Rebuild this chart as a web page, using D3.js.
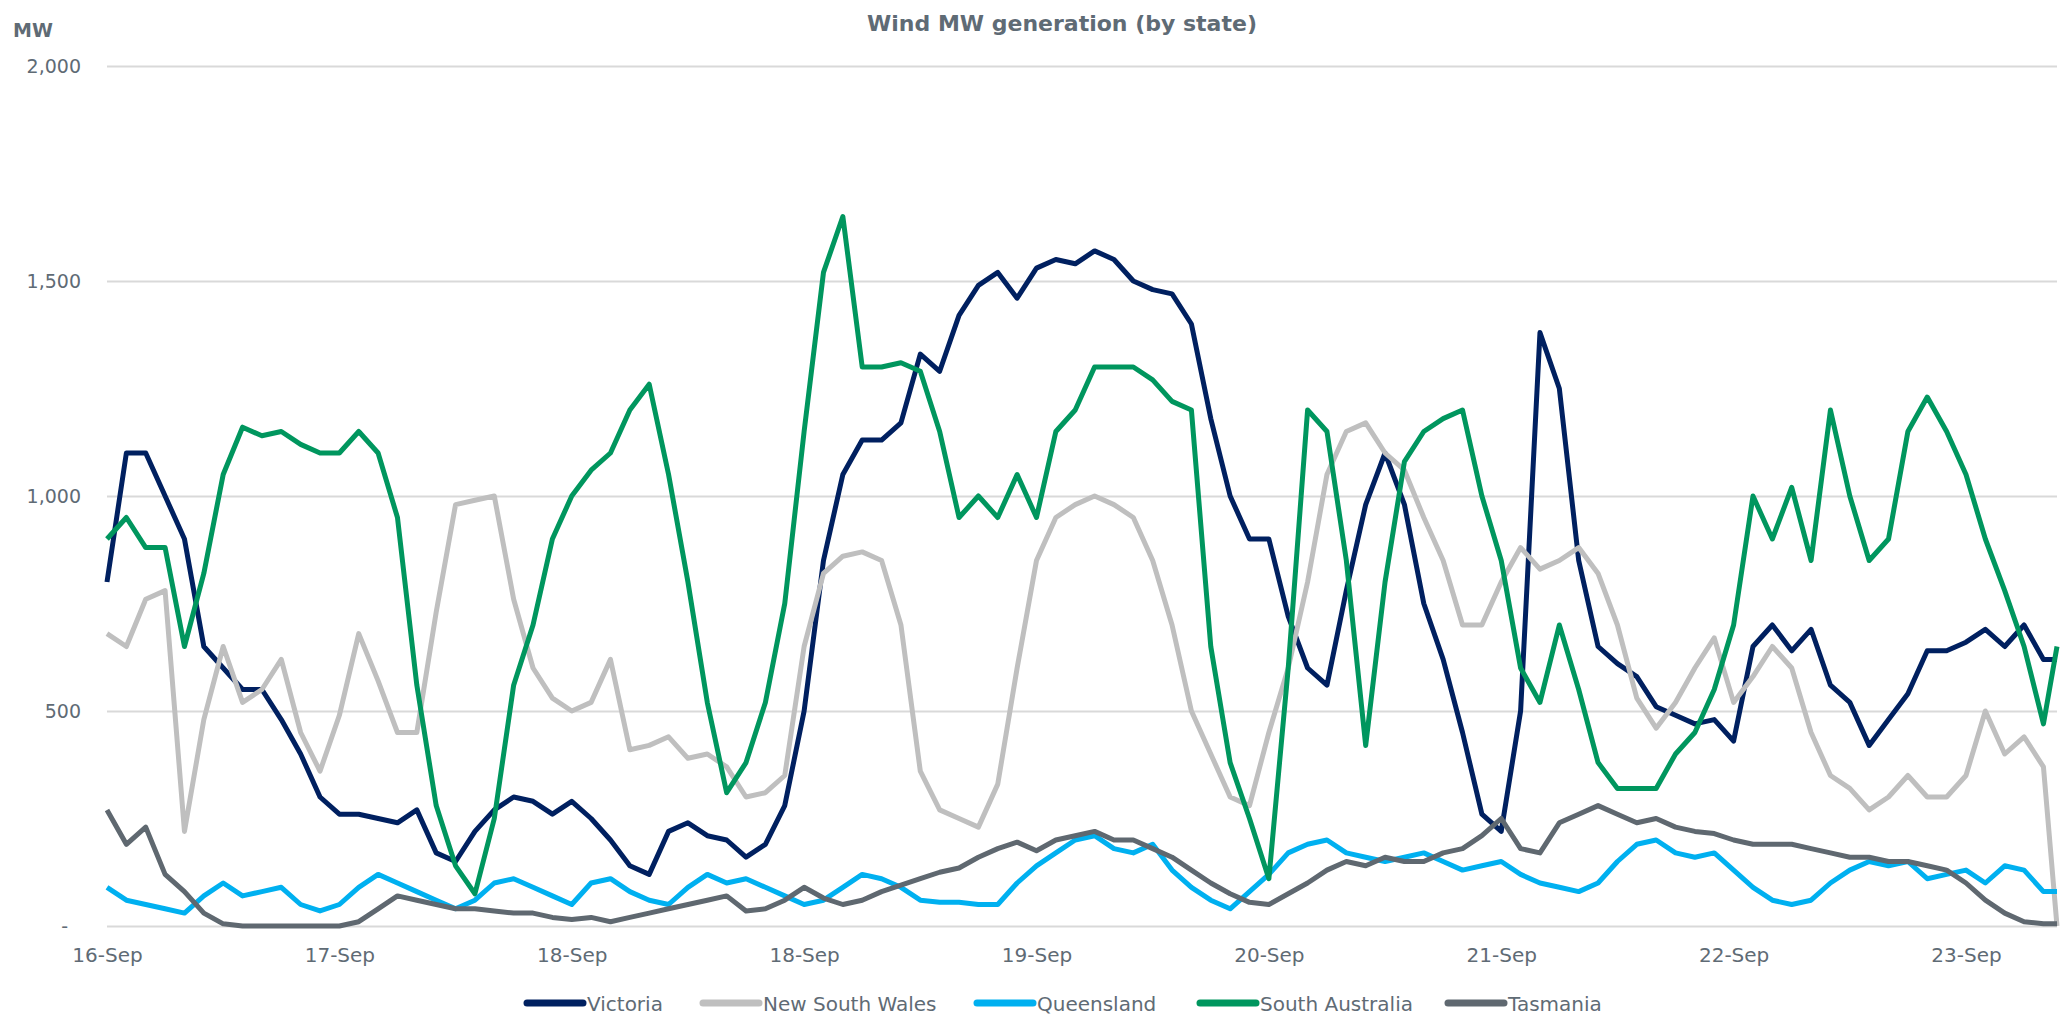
<!DOCTYPE html>
<html>
<head>
<meta charset="utf-8">
<script src="https://cdn.jsdelivr.net/npm/d3@7"></script>
<style>
  body { margin: 0; background: #fff; }
  svg text { font-family: "DejaVu Sans", sans-serif; fill: #5f6b75; }
</style>
</head>
<body>
<svg class="chart_svg" width="2064" height="1015"></svg>
<script>
/* values, one point every 2 hours from 16-Sep 00:00 */
let victoria = [800,1100,1100,1000,900,650,600,550,550,480,400,300,260,260,250,240,270,170,150,220,270,300,290,260,290,250,200,140,120,220,240,210,200,160,190,280,500,850,1050,1130,1130,1170,1330,1290,1420,1490,1520,1460,1530,1550,1540,1570,1550,1500,1480,1470,1400,1180,1000,900,900,720,600,560,780,980,1100,980,750,620,450,260,220,500,1380,1250,850,650,610,580,510,490,470,480,430,650,700,640,690,560,520,420,480,540,640,640,660,690,650,700,620,620];
let nsw = [680,650,760,780,220,480,650,520,550,620,450,360,490,680,570,450,450,730,980,990,1000,760,600,530,500,520,620,410,420,440,390,400,370,300,310,350,650,820,860,870,850,700,360,270,250,230,330,600,850,950,980,1000,980,950,850,700,500,400,300,280,450,600,800,1050,1150,1170,1100,1060,950,850,700,700,800,880,830,850,880,820,700,530,460,520,600,670,520,580,650,600,450,350,320,270,300,350,300,300,350,500,400,440,370,0];
let queensland = [90,60,50,40,30,70,100,70,80,90,50,35,50,90,120,100,80,60,40,60,100,110,90,70,50,100,110,80,60,50,90,120,100,110,90,70,50,60,90,120,110,90,60,55,55,50,50,100,140,170,200,210,180,170,190,130,90,60,40,80,120,170,190,200,170,160,150,160,170,150,130,140,150,120,100,90,80,100,150,190,200,170,160,170,130,90,60,50,60,100,130,150,140,150,110,120,130,100,140,130,80,80];
let south_australia = [900,950,880,880,650,820,1050,1160,1140,1150,1120,1100,1100,1150,1100,950,560,280,140,75,250,560,700,900,1000,1060,1100,1200,1260,1050,800,520,310,380,520,750,1150,1520,1650,1300,1300,1310,1290,1150,950,1000,950,1050,950,1150,1200,1300,1300,1300,1270,1220,1200,650,380,250,110,600,1200,1150,850,420,800,1080,1150,1180,1200,1000,850,600,520,700,550,380,320,320,320,400,450,550,700,1000,900,1020,850,1200,1000,850,900,1150,1230,1150,1050,900,780,650,470,650];
let tasmania = [270,190,230,120,80,30,5,0,0,0,0,0,0,10,40,70,60,50,40,40,35,30,30,20,15,20,10,20,30,40,50,60,70,35,40,60,90,65,50,60,80,95,110,125,135,160,180,195,175,200,210,220,200,200,180,160,130,100,75,55,50,75,100,130,150,140,160,150,150,170,180,210,250,180,170,240,260,280,260,240,250,230,220,215,200,190,190,190,180,170,160,160,150,150,140,130,100,60,30,10,5,5];

/* hours after 16-Sep 00:00 for each point, the last one is the end of the data */
let hours = d3.range(0, 201, 2).concat([201.4]);

let series_names = ["Victoria", "New South Wales", "Queensland", "South Australia", "Tasmania"];
let series_colors = ["#002060", "#bfbfbf", "#00b0f0", "#00965e", "#5f6870"];
let series_values = [victoria, nsw, queensland, south_australia, tasmania];

let tick_hours = [0, 24, 48, 72, 96, 120, 144, 168, 192];
let tick_labels = ["16-Sep", "17-Sep", "18-Sep", "18-Sep", "19-Sep", "20-Sep", "21-Sep", "22-Sep", "23-Sep"];
let y_ticks = [0, 500, 1000, 1500, 2000];

let svg = d3.select("svg.chart_svg");

let x = d3.scaleLinear().domain([0, 201.4]).range([107, 2057]);
let y = d3.scaleLinear().domain([0, 2000]).range([926, 66]);

/* Title and unit */
svg.append("text")
    .attr("x", 1062).attr("y", 31)
    .attr("text-anchor", "middle")
    .style("font-weight", "bold").style("font-size", "22px")
    .text("Wind MW generation (by state)");

svg.append("text")
    .attr("x", 13).attr("y", 37)
    .style("font-weight", "bold").style("font-size", "19px")
    .text("MW");

/* Gridlines + y labels */
let y_axis = svg.append("g")
    .attr("transform", "translate(107,0)")
    .call(d3.axisLeft(y)
        .tickValues(y_ticks)
        .tickSize(-1950)
        .tickPadding(26)
        .tickFormat(function(d){ return d === 0 ? "-" : d3.format(",")(d); }));
y_axis.select(".domain").remove();
y_axis.selectAll("line").attr("stroke", "#d9d9d9").attr("stroke-width", 2);
y_axis.selectAll("text").style("font-size", "19px").attr("fill", "#5f6b75");
y_axis.selectAll("text").filter(function(d){ return d === 0; }).attr("x", -39);

/* x labels */
let x_axis = svg.append("g")
    .attr("transform", "translate(0,926)")
    .call(d3.axisBottom(x)
        .tickValues(tick_hours)
        .tickSize(0)
        .tickPadding(22)
        .tickFormat(function(d, i){ return tick_labels[i]; }));
x_axis.select(".domain").remove();
x_axis.selectAll("text").style("font-size", "20px").attr("fill", "#5f6b75");

/* Lines */
let line = d3.line()
    .x(function(d, i){ return x(hours[i]); })
    .y(function(d){ return y(d); });

svg.append("g").selectAll("path")
    .data(series_values)
    .enter()
    .append("path")
    .attr("fill", "none")
    .attr("stroke", function(d, i){ return series_colors[i]; })
    .attr("stroke-width", 5)
    .attr("stroke-linejoin", "round")
    .attr("d", line);

/* Legend */
let legend_x = [527, 703, 977, 1200, 1448];
let legend = svg.append("g").selectAll("g")
    .data(series_names)
    .enter()
    .append("g")
    .attr("transform", function(d, i){ return "translate(" + legend_x[i] + ",1003)"; });

legend.append("line")
    .attr("x1", 0).attr("x2", 56)
    .attr("stroke", function(d, i){ return series_colors[i]; })
    .attr("stroke-width", 7)
    .attr("stroke-linecap", "round");

legend.append("text")
    .attr("x", 60).attr("y", 8)
    .style("font-size", "20px")
    .text(function(d){ return d; });
</script>
</body>
</html>
